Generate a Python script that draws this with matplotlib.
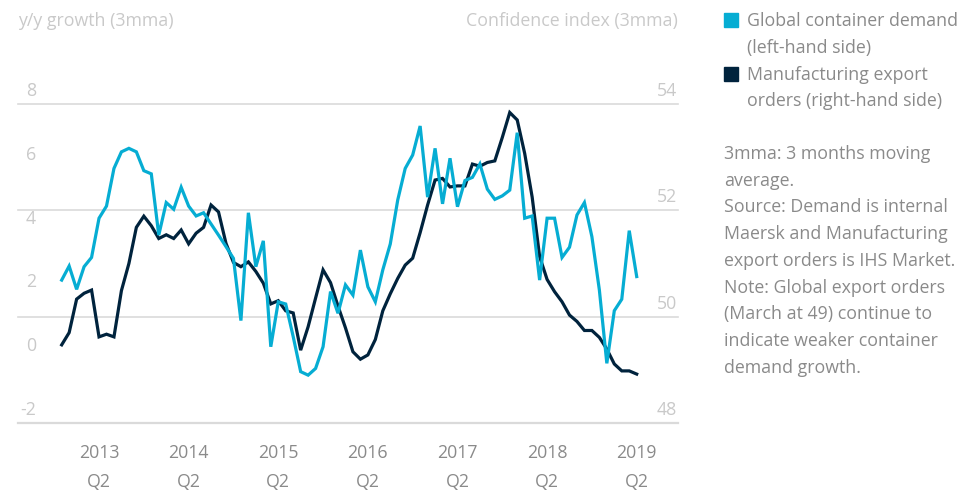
import matplotlib
matplotlib.use("Agg")
import matplotlib.pyplot as plt
from matplotlib.transforms import blended_transform_factory, ScaledTranslation
from matplotlib.patches import Rectangle
import numpy as np

plt.rcParams['font.family'] = ['Open Sans', 'DejaVu Sans']

# ---- data (monthly, 3mma) ----
demand_growth = [2.48, 2.92, 2.19, 2.90, 3.19, 4.42, 4.80, 5.98, 6.50, 6.61,
                 6.50, 5.91, 5.81, 3.89, 4.91, 4.70, 5.39, 4.80, 4.49, 4.59,
                 4.24, 3.89, 3.53, 3.16, 1.21, 4.59, 2.90, 3.71, 0.39, 1.80,
                 1.73, 0.71, -0.39, -0.50, -0.29, 0.39, 2.12, 1.44, 2.33, 2.01,
                 3.42, 2.27, 1.80, 2.80, 3.61, 4.99, 5.98, 6.40, 7.31, 5.08,
                 6.61, 4.87, 6.30, 4.78, 5.60, 5.70, 6.12, 5.33, 5.01, 5.12,
                 5.30, 7.10, 4.42, 4.49, 2.48, 4.42, 4.42, 3.19, 3.51, 4.52,
                 4.91, 3.84, 2.17, -0.13, 1.52, 1.88, 4.03, 2.59]
export_orders = [49.47, 49.70, 50.33, 50.44, 50.50, 49.62, 49.67, 49.62, 50.49, 51.00,
                 51.68, 51.89, 51.71, 51.47, 51.54, 51.47, 51.63, 51.37, 51.57, 51.68,
                 52.10, 51.97, 51.38, 51.02, 50.94, 51.03, 50.85, 50.63, 50.24, 50.30,
                 50.11, 50.07, 49.37, 49.81, 50.35, 50.88, 50.64, 50.20, 49.79, 49.34,
                 49.20, 49.28, 49.57, 50.11, 50.43, 50.72, 50.97, 51.10, 51.58, 52.10,
                 52.57, 52.60, 52.44, 52.46, 52.46, 52.87, 52.83, 52.90, 52.93, 53.37,
                 53.84, 53.70, 53.07, 52.25, 51.13, 50.70, 50.47, 50.28, 50.03, 49.91,
                 49.74, 49.74, 49.61, 49.39, 49.11, 48.98, 48.98, 48.92]
year_labels = ["2013", "2014", "2015", "2016", "2017", "2018", "2019"]
quarter_label = "Q2"
year_tick_idx = [5, 17, 29, 41, 53, 65, 77]
left_ticks = [-2, 0, 2, 4, 6, 8]
right_ticks = [48, 50, 52, 54]
series_names = ["Global container demand\n(left-hand side)",
                "Manufacturing export\norders (right-hand side)"]
note_lines = ["3mma: 3 months moving", "average.",
              "Source: Demand is internal", "Maersk and Manufacturing",
              "export orders is IHS Market.", "Note: Global export orders",
              "(March at 49) continue to", "indicate weaker container",
              "demand growth."]

# ---- style ----
C_LIGHT = '#06ADD3'
C_DARK = '#00233D'
C_GRID = '#dadada'
C_AXLBL = '#c9c9c9'
C_TEXT = '#8a8a8a'
FS = 12.8

W, H = 980, 492
fig = plt.figure(figsize=(W / 100, H / 100), dpi=100)
ax = fig.add_axes([18 / W, 1 - 423 / H, 660 / W, 319 / H])
ax2 = ax.twinx()
ax.set_zorder(ax2.get_zorder() + 1)
ax.patch.set_visible(False)

months = np.arange(len(demand_growth))
ax.set_xlim(-5.85, 82.53)
ax.set_ylim(-2, 8)
ax2.set_ylim(48, 54)
for a in (ax, ax2):
    for s in a.spines.values():
        s.set_visible(False)
    a.set_yticks([])

for v in right_ticks:
    ax2.axhline(v, color=C_GRID, lw=1.6 if v == right_ticks[0] else 1.2,
                clip_on=False, zorder=0)

ax2.plot(months, export_orders, color=C_DARK, lw=2.3, solid_joinstyle='miter')
ax.plot(months, demand_growth, color=C_LIGHT, lw=2.3, solid_joinstyle='miter')

# y labels sitting above the tick level
off = ScaledTranslation(0, 0.13, fig.dpi_scale_trans)
tl = blended_transform_factory(ax.transAxes, ax.transData) + off
for v in left_ticks:
    ax.text(18 / 660, v, f"{v}", transform=tl, ha='right', va='center',
            color=C_AXLBL, fontsize=FS, clip_on=False)
tr = blended_transform_factory(ax2.transAxes, ax2.transData) + off
for v in right_ticks:
    ax2.text(659 / 660, v, f"{v}", transform=tr, ha='right', va='center',
             color=C_AXLBL, fontsize=FS, clip_on=False)

# x labels: year as tick label, quarter on a second row
ax.set_xticks(year_tick_idx, labels=year_labels)
ax.tick_params(axis='x', length=0, pad=15, labelsize=FS, labelcolor=C_TEXT)
tq = blended_transform_factory(ax.transData, ax.transAxes) + \
    ScaledTranslation(0, -0.59, fig.dpi_scale_trans)
for x in year_tick_idx:
    ax.text(x, 0, quarter_label, transform=tq, ha='center', va='center',
            color=C_TEXT, fontsize=FS, clip_on=False)

# axis titles
fig.text(18 / W, 1 - 21 / H, "y/y growth (3mma)", ha='left', va='center',
         color=C_AXLBL, fontsize=FS)
fig.text(678 / W, 1 - 21 / H, "Confidence index (3mma)", ha='right', va='center',
         color=C_AXLBL, fontsize=FS)

# legend
for k, (name, col) in enumerate(zip(series_names, [C_LIGHT, C_DARK])):
    y0 = 20 + k * 54
    fig.patches.append(Rectangle((724 / W, 1 - (y0 + 7) / H), 14 / W, 14 / H,
                                 transform=fig.transFigure, color=col))
    for j, line in enumerate(name.split("\n")):
        fig.text(746.5 / W, 1 - (y0 + 1 + j * 26.5) / H, line, ha='left', va='center',
                 color=C_TEXT, fontsize=FS)

for k, line in enumerate(note_lines):
    fig.text(724 / W, 1 - (154 + k * 26.75) / H, line, ha='left', va='center',
             color=C_TEXT, fontsize=FS)

fig.savefig("out.png", dpi=100)
